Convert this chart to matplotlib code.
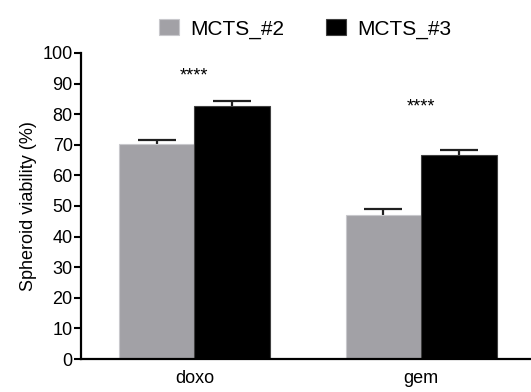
import numpy as np
import matplotlib
matplotlib.use("Agg")
import matplotlib.pyplot as plt

plt.rcParams["font.family"] = ["Liberation Sans", "DejaVu Sans"]

categories = ["doxo", "gem"]
series_names = ["MCTS_#2", "MCTS_#3"]
mcts2 = [70.2, 47.0]
mcts2_err = [1.5, 2.0]
mcts3 = [82.5, 66.8]
mcts3_err = [1.7, 1.5]
stars = ["****", "****"]
star_y = [92.5, 82.5]

fig = plt.figure(figsize=(5.31, 3.92), dpi=100)
ax = fig.add_axes([0.1525, 0.084, 0.85, 0.781])

x = np.arange(len(categories))
w = 0.333

ax.bar(x - w / 2, mcts2, w, color="#a2a1a6", edgecolor="#c8c8cc", linewidth=0.8,
       label=series_names[0], zorder=2)
ax.bar(x + w / 2, mcts3, w, color="black", edgecolor="#404040", linewidth=0.8,
       label=series_names[1], zorder=2)
ax.errorbar(x - w / 2, mcts2, yerr=mcts2_err, fmt="none",
            ecolor="#202020", elinewidth=1.6, capsize=14, capthick=1.6, zorder=1)
ax.errorbar(x + w / 2, mcts3, yerr=mcts3_err, fmt="none",
            ecolor="#202020", elinewidth=1.6, capsize=14, capthick=1.6, zorder=1)

for xi, s, sy in zip(x, stars, star_y):
    ax.text(xi, sy, s, ha="center", va="center", fontsize=13)

ax.set_xlim(-0.5, 1.49)
ax.set_ylim(0, 100)
ax.set_yticks(range(0, 101, 10))
ax.set_xticks(x)
ax.set_xticklabels(categories, fontsize=13)
ax.tick_params(axis="y", labelsize=13, length=5, width=1.5, pad=1)
ax.tick_params(axis="x", length=0, pad=8)
ax.set_ylabel("Spheroid viability (%)", fontsize=13, labelpad=4)

for side in ["top", "right"]:
    ax.spines[side].set_visible(False)
for side in ["left", "bottom"]:
    ax.spines[side].set_linewidth(1.6)

fig.legend(loc="upper center", bbox_to_anchor=(0.575, 1.0), ncol=2, frameon=False,
           fontsize=15, handlelength=0.95, handleheight=0.85, columnspacing=2.0,
           handletextpad=0.55)

fig.savefig("out.png", dpi=100)
